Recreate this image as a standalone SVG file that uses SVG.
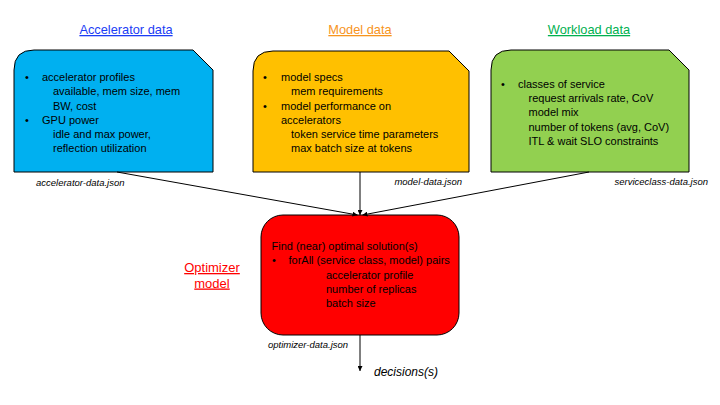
<svg xmlns="http://www.w3.org/2000/svg" width="720" height="405" viewBox="0 0 720 405">
<style>
text{font-family:"Liberation Sans",Arial,sans-serif;fill:#000}
.t{font-size:11px}
.title{font-size:12.8px;text-decoration:underline;text-anchor:middle}
.file{font-size:9.5px;font-style:italic}
.box{stroke:#000;stroke-width:1}
.conn{stroke:#000;stroke-width:1;fill:none}
</style>
<defs>
<marker id="ah" viewBox="0 0 10 10" refX="10" refY="5" markerWidth="5" markerHeight="5" orient="auto" markerUnits="userSpaceOnUse">
<path d="M0,0 L10,5 L0,10 Z" fill="#000"/>
</marker>
</defs>
<rect width="720" height="405" fill="#fff"/>

<g id="accelerator">
<text class="title" x="126" y="34" style="fill:#1a3cf5">Accelerator data</text>
<path class="box" fill="#00B0F0" d="M34,50 H193 L213,70 V172 H14 V70 Q14,50 34,50 Z"/>
<text class="t" x="25" y="81">•</text>
<text class="t" x="42" y="81">accelerator profiles</text>
<text class="t" x="53" y="95.3">available, mem size, mem</text>
<text class="t" x="53" y="109.5">BW, cost</text>
<text class="t" x="25" y="123.5">•</text>
<text class="t" x="42" y="123.5">GPU power</text>
<text class="t" x="53" y="138">idle and max power,</text>
<text class="t" x="53" y="152">reflection utilization</text>
<text class="file" x="36" y="186">accelerator-data.json</text>
</g>

<g id="model">
<text class="title" x="360" y="34" style="fill:#f7941d">Model data</text>
<path class="box" fill="#FFC000" d="M273,51 H449 L469,71 V172 H253 V71 Q253,51 273,51 Z"/>
<text class="t" x="263" y="81">•</text>
<text class="t" x="281" y="81">model specs</text>
<text class="t" x="291" y="95.3">mem requirements</text>
<text class="t" x="263" y="109.5">•</text>
<text class="t" x="281" y="109.5">model performance on</text>
<text class="t" x="281" y="123.5">accelerators</text>
<text class="t" x="291" y="138">token service time parameters</text>
<text class="t" x="291" y="152">max batch size at tokens</text>
<text class="file" x="462" y="185" text-anchor="end">model-data.json</text>
</g>

<g id="workload">
<text class="title" x="589" y="34" style="fill:#00b050">Workload data</text>
<path class="box" fill="#92D050" d="M511,50 H669 L689,70 V172 H491 V70 Q491,50 511,50 Z"/>
<text class="t" x="501" y="87.5">•</text>
<text class="t" x="518" y="87.5">classes of service</text>
<text class="t" x="528.5" y="102">request arrivals rate, CoV</text>
<text class="t" x="528.5" y="116">model mix</text>
<text class="t" x="528.5" y="130.5">number of tokens (avg, CoV)</text>
<text class="t" x="528.5" y="145">ITL &amp; wait SLO constraints</text>
<text class="file" x="708" y="185" text-anchor="end">serviceclass-data.json</text>
</g>

<g id="optimizer">
<text class="title" x="212" y="272" style="fill:#ff0000;font-size:13px">Optimizer</text>
<text class="title" x="212" y="287.5" style="fill:#ff0000;font-size:13px">model</text>
<rect class="box" x="261" y="215" width="198" height="120" rx="22" ry="22" fill="#FF0000"/>
<text class="t" x="271.5" y="249.5">Find (near) optimal solution(s)</text>
<text class="t" x="272" y="264">•</text>
<text class="t" x="288.5" y="264">forAll (service class, model) pairs</text>
<text class="t" x="326" y="278.5">accelerator profile</text>
<text class="t" x="326" y="292.7">number of replicas</text>
<text class="t" x="326" y="306.8">batch size</text>
<text class="file" x="268" y="347.5">optimizer-data.json</text>
</g>

<g id="decisions">
<text x="374" y="376" style="font-size:12px;font-style:italic">decisions(s)</text>
</g>

<g id="connectors">
<line class="conn" x1="117" y1="172" x2="357.5" y2="215" marker-end="url(#ah)"/>
<line class="conn" x1="360" y1="172" x2="360" y2="215" marker-end="url(#ah)"/>
<line class="conn" x1="589" y1="172" x2="362.5" y2="215" marker-end="url(#ah)"/>
<line class="conn" x1="360" y1="335" x2="360" y2="371" marker-end="url(#ah)"/>
</g>
</svg>
